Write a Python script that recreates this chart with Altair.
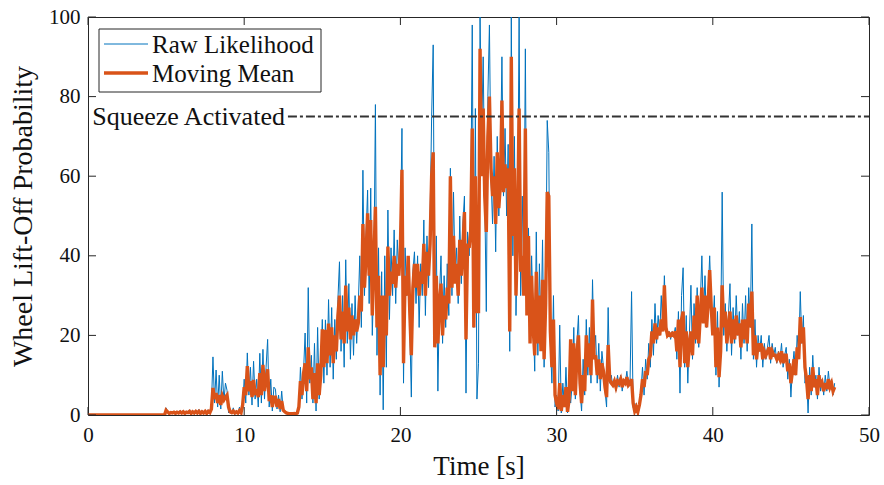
import altair as alt
import pandas as pd
import numpy as np

raw_likelihood = [
    0, 0, 0, 0, 0, 0, 0, 0, 0, 0,
    0, 0, 0, 0, 0, 0, 0, 0, 0, 0,
    0, 0, 0, 0, 0, 0, 0, 0, 0, 0,
    0, 0, 0, 0, 0, 0, 0, 0, 0, 0,
    0, 0, 0, 0, 0, 0, 0, 0, 0, 0,
    1.8, 0.6, 0.2, 0.8, 0.3, 1.0, 0.2, 0.9, 0.4, 1.1,
    0.3, 1.2, 0.2, 0.9, 0.5, 1.3, 0.1, 1.0, 0.4, 1.2,
    0.3, 1.4, 0.2, 1.1, 0.4, 1.2, 0.1, 1.3, 0.5, 2.2,
    14.6, 3.0, 11.3, 2.0, 10.0, 1.5, 11.0, 3.5, 8.0, 6.2,
    0.5, 1.5, 0.3, 1.8, 0.2, 1.2, 0.4, 2.0, 0.3, 3.0,
    9.0, 3.0, 15.6, 5.0, 12.0, 2.5, 13.5, 4.0, 9.0, 2.0,
    15.5, 3.0, 16.5, 4.0, 12.0, 19.0, 2.0, 9.0, 1.0, 7.0,
    6.5, 1.5, 5.0, 0.8, 6.0, 1.0, 0.8, 0.3, 0.5, 0.2,
    0.3, 0.2, 0.5, 0.3, 0.6, 1.5, 12.0, 4.0, 11.0, 20.6,
    3.0, 32.0, 8.0, 15.0, 3.0, 18.0, 1.0, 22.0, 4.0, 13.0,
    24.0, 8.0, 23.9, 10.0, 29.0, 12.0, 27.0, 9.0, 24.0, 14.0,
    29.0, 38.5, 16.0, 30.0, 12.0, 39.0, 18.0, 33.0, 14.0, 28.0,
    15.0, 30.0, 18.0, 27.0, 40.0, 22.0, 61.5, 30.0, 45.0, 56.5,
    28.0, 57.0, 20.0, 35.0, 78.0, 15.0, 42.0, 5.0, 36.0, 1.3,
    40.0, 12.0, 51.5, 24.0, 42.0, 30.0, 46.5, 28.0, 44.0, 36.0,
    45.0, 72.0, 8.0, 42.0, 30.0, 38.0, 22.0, 4.5, 36.0, 41.0,
    28.0, 40.0, 22.0, 38.0, 30.0, 49.0, 25.0, 45.0, 32.0, 49.0,
    75.0, 93.0, 20.0, 45.0, 6.0, 30.0, 40.0, 18.0, 35.0, 22.0,
    38.0, 25.0, 62.0, 30.0, 56.0, 35.0, 42.0, 28.0, 50.0, 33.0,
    48.0, 55.0, 5.5, 46.0, 40.0, 50.0, 98.0, 22.0, 77.0, 4.0,
    13.0, 100.0, 70.0, 90.0, 55.0, 26.0, 80.0, 98.0, 60.0, 48.0,
    65.0, 41.0, 70.0, 50.0, 62.0, 90.0, 55.0, 72.0, 50.0, 68.0,
    16.0, 100.0, 40.0, 70.0, 25.0, 45.0, 100.0, 30.0, 55.0, 35.0,
    92.0, 30.0, 47.0, 20.0, 40.0, 25.0, 11.0, 46.0, 15.0, 38.0,
    20.0, 44.0, 12.0, 30.0, 74.0, 66.0, 18.0, 8.0, 30.0, 2.0,
    5.0, 1.0, 22.6, 0.5, 8.0, 2.0, 12.0, 0.5, 6.0, 3.0,
    8.0, 22.0, 4.0, 18.0, 25.0, 6.0, 1.0, 14.0, 5.0, 24.0,
    10.0, 22.0, 8.0, 34.0, 15.0, 20.0, 8.0, 18.0, 6.0, 16.0,
    12.0, 6.0, 2.0, 27.0, 8.0, 10.0, 7.0, 9.0, 6.0, 10.0,
    7.0, 10.0, 6.0, 9.0, 8.0, 11.0, 7.0, 8.0, 31.0, 2.0,
    0.5, 3.0, 0.0, 2.0, 6.0, 12.0, 5.0, 14.0, 9.0, 18.0,
    12.0, 24.0, 15.0, 28.0, 18.0, 25.0, 20.0, 30.0, 22.0, 35.0,
    22.0, 20.0, 21.0, 19.0, 21.0, 20.0, 22.0, 14.0, 26.0, 5.5,
    30.0, 37.0, 12.0, 25.0, 8.0, 20.0, 32.6, 14.0, 28.0, 18.0,
    32.0, 17.0, 28.0, 40.0, 24.0, 35.0, 22.0, 30.0, 40.0, 28.0,
    22.0, 30.0, 10.0, 26.0, 7.0, 18.0, 56.0, 20.0, 28.0, 16.0,
    25.0, 33.0, 15.0, 27.0, 18.0, 30.0, 20.0, 26.0, 14.0, 28.0,
    18.0, 30.0, 16.0, 32.0, 22.0, 48.0, 14.0, 24.0, 12.0, 20.0,
    16.0, 20.0, 12.0, 18.0, 14.0, 17.0, 20.0, 13.0, 18.0, 15.0,
    17.0, 13.0, 16.0, 14.0, 18.0, 12.0, 15.0, 17.0, 9.0, 14.0,
    4.5, 12.0, 16.0, 10.0, 20.0, 15.0, 31.0, 18.0, 25.0, 8.0,
    10.0, 0.5, 12.0, 5.0, 15.0, 7.0, 10.0, 4.0, 12.0, 6.0,
    9.0, 5.0, 10.0, 6.0, 11.0, 7.0, 9.0, 5.0, 8.0,
]

moving_mean = [
    0, 0, 0, 0, 0, 0, 0, 0, 0, 0,
    0, 0, 0, 0, 0, 0, 0, 0, 0, 0,
    0, 0, 0, 0, 0, 0, 0, 0, 0, 0,
    0, 0, 0, 0, 0, 0, 0, 0, 0, 0,
    0, 0, 0, 0, 0, 0, 0, 0, 0, 0,
    1.2, 0.8, 0.4, 0.6, 0.5, 0.7, 0.4, 0.7, 0.5, 0.8,
    0.5, 0.8, 0.4, 0.7, 0.6, 0.9, 0.4, 0.8, 0.5, 0.9,
    0.5, 0.9, 0.4, 0.8, 0.5, 0.9, 0.4, 0.9, 0.6, 1.5,
    6.8, 4.0, 5.5, 3.0, 5.0, 2.5, 4.8, 3.8, 4.5, 5.0,
    2.0, 0.8, 0.6, 1.0, 0.5, 0.8, 0.5, 1.1, 0.6, 2.5,
    7.0, 5.0, 12.3, 6.0, 8.5, 4.5, 8.8, 5.0, 6.5, 4.5,
    10.5, 5.0, 12.6, 6.0, 9.0, 11.5, 3.5, 5.0, 2.0, 4.5,
    4.5, 2.0, 4.0, 1.5, 3.5, 1.2, 0.8, 0.5, 0.4, 0.3,
    0.3, 0.3, 0.4, 0.3, 0.5, 2.0, 8.5, 5.0, 10.5, 13.0,
    6.0, 17.0, 9.0, 12.0, 4.0, 10.5, 3.0, 13.0, 5.0, 10.0,
    21.5, 12.0, 21.4, 13.0, 23.0, 15.0, 22.0, 13.0, 20.0, 16.0,
    25.0, 30.0, 19.0, 26.0, 18.0, 32.5, 21.0, 27.0, 19.0, 25.0,
    20.0, 24.0, 21.0, 23.0, 30.0, 26.0, 48.0, 32.0, 40.0, 50.7,
    35.0, 49.0, 25.0, 38.0, 52.3, 22.0, 35.0, 10.0, 30.0, 12.0,
    30.0, 20.0, 42.3, 30.0, 36.0, 33.0, 40.0, 32.0, 38.0, 35.0,
    42.0, 61.6, 13.0, 35.0, 30.0, 40.0, 26.0, 15.0, 32.0, 38.0,
    32.0, 38.0, 30.0, 36.0, 33.0, 43.0, 30.0, 41.0, 35.0, 43.0,
    60.0, 66.0, 17.0, 35.0, 18.0, 28.0, 33.0, 20.0, 30.0, 24.0,
    32.0, 28.0, 60.0, 32.0, 45.0, 33.0, 38.0, 30.0, 44.0, 35.0,
    42.0, 51.0, 19.0, 43.0, 42.0, 46.0, 72.0, 22.0, 60.0, 26.0,
    26.0, 92.0, 60.0, 77.0, 55.0, 46.0, 70.0, 80.0, 62.0, 55.0,
    60.0, 48.0, 66.0, 52.0, 58.0, 79.0, 56.0, 63.0, 57.0, 62.0,
    21.0, 90.0, 45.0, 62.0, 30.0, 46.0, 77.0, 36.0, 40.0, 30.0,
    72.0, 25.0, 45.0, 18.0, 35.0, 22.0, 15.0, 36.0, 18.0, 30.0,
    16.0, 34.0, 14.0, 28.0, 56.0, 55.0, 21.0, 12.0, 24.0, 5.0,
    3.0, 1.5, 8.0, 1.0, 5.0, 2.0, 7.0, 0.8, 4.0, 19.0,
    6.0, 18.0, 5.0, 15.0, 20.0, 8.0, 3.0, 10.0, 6.0, 20.0,
    12.0, 18.0, 10.0, 29.0, 14.0, 15.0, 10.0, 14.0, 9.0, 13.0,
    11.0, 7.0, 4.5, 17.6, 9.0, 8.0, 7.5, 8.5, 7.0, 8.5,
    8.0, 9.0, 7.0, 8.5, 8.0, 9.5, 7.5, 8.0, 9.0, 3.0,
    1.0, 2.0, 0.8, 2.5, 5.0, 9.0, 7.0, 11.0, 10.0, 14.0,
    15.0, 21.0, 18.0, 23.0, 19.0, 22.0, 20.0, 24.0, 21.0, 32.6,
    22.0, 20.0, 20.5, 20.0, 20.5, 20.0, 21.0, 16.0, 24.0, 12.0,
    24.0, 26.0, 13.0, 21.0, 12.0, 18.0, 21.0, 15.0, 25.0, 19.0,
    30.0, 18.0, 25.0, 32.0, 23.0, 30.0, 22.0, 28.0, 36.4, 27.0,
    20.0, 27.0, 12.0, 22.0, 9.5, 16.0, 32.6, 22.0, 26.0, 18.0,
    22.0, 26.0, 18.0, 24.0, 19.0, 25.0, 20.0, 23.0, 17.0, 24.0,
    19.0, 24.0, 18.0, 28.0, 22.0, 31.0, 15.0, 20.0, 14.0, 18.0,
    16.0, 18.0, 14.0, 16.0, 15.0, 16.0, 17.0, 14.0, 16.0, 15.0,
    15.0, 14.0, 15.0, 14.0, 16.0, 13.0, 15.0, 15.0, 11.0, 13.0,
    8.0, 11.0, 14.0, 10.0, 17.0, 14.0, 24.6, 18.0, 22.0, 12.0,
    9.0, 4.0, 10.0, 6.0, 12.0, 7.0, 9.0, 5.0, 10.0, 7.0,
    8.0, 6.0, 8.0, 6.5, 9.0, 7.0, 8.0, 6.0, 7.0,
]

sample_step = 0.1
series_names = ["Raw Likelihood", "Moving Mean"]
series_colors = ["#0072BD", "#D95319"]
series_widths = [1.0, 3.4]

x_ticks = [0, 10, 20, 30, 40, 50]
y_ticks = [0, 20, 40, 60, 80, 100]

threshold_value = 75
threshold_start = 12.8
threshold_end = 50
threshold_label = "Squeeze Activated"

# ---- build table ----
n = len(raw_likelihood)
times = np.round(np.arange(n) * sample_step, 2)
df = pd.concat([
    pd.DataFrame({"t": times, "v": raw_likelihood, "series": series_names[0], "ord": 0}),
    pd.DataFrame({"t": times[:len(moving_mean)], "v": moving_mean, "series": series_names[1], "ord": 1}),
])

W, H = 781, 398
FONT = "Liberation Serif"
AX = "#262626"
TXT = "#111111"

xscale = alt.Scale(domain=[0, 50], nice=False, zero=False)
yscale = alt.Scale(domain=[0, 100], nice=False)

xax = alt.Axis(values=x_ticks, ticks=False, domain=False, grid=False, labelPadding=9,
               title="Time [s]", titlePadding=8, titleFontSize=27, labelFlush=False)
yax = alt.Axis(values=y_ticks, ticks=False, domain=False, grid=False, labelPadding=8,
               title="Wheel Lift-Off Probability", titlePadding=11, titleFontSize=28)

color = alt.Color("series:N", scale=alt.Scale(domain=series_names, range=series_colors), legend=None)
swidth = alt.StrokeWidth("series:N", scale=alt.Scale(domain=series_names, range=series_widths), legend=None)

base = alt.Chart(df)
raw_line = base.transform_filter(alt.datum.ord == 0).mark_line(clip=True).encode(
    x=alt.X("t:Q", scale=xscale, axis=xax),
    y=alt.Y("v:Q", scale=yscale, axis=yax),
    color=color, strokeWidth=swidth,
)
mean_line = base.transform_filter(alt.datum.ord == 1).mark_line(clip=True).encode(
    x=alt.X("t:Q", scale=xscale, axis=xax),
    y=alt.Y("v:Q", scale=yscale, axis=yax),
    color=color, strokeWidth=swidth,
)

thr_df = pd.DataFrame({"x": [threshold_start], "x2": [threshold_end], "y": [threshold_value],
                       "label": [threshold_label]})
thr_rule = alt.Chart(thr_df).mark_rule(color="#333333", strokeWidth=2.2, strokeDash=[9, 3, 3, 3]).encode(
    x=alt.X("x:Q", scale=xscale), x2="x2:Q", y=alt.Y("y:Q", scale=yscale))
thr_text = alt.Chart(thr_df).mark_text(align="right", baseline="middle", dx=-3, font=FONT,
                                       fontSize=26, color=TXT).encode(
    x=alt.X("x:Q", scale=xscale), y=alt.Y("y:Q", scale=yscale), text="label:N")

# ---- manual legend (box, line samples, labels) ----
leg_df = pd.DataFrame({"series": series_names})
leg_box = alt.Chart(leg_df.head(1)).mark_rect(fill="white", stroke=AX, strokeWidth=1).encode(
    x=alt.value(11), x2=alt.value(233), y=alt.value(12), y2=alt.value(75))
leg_items = []
for i, (name, col, wdt) in enumerate(zip(series_names, series_colors, series_widths)):
    ypos = 27 + 29 * i
    one = pd.DataFrame({"series": [name]})
    leg_items.append(alt.Chart(one).mark_rule(color=col, strokeWidth=wdt).encode(
        x=alt.value(16), x2=alt.value(60), y=alt.value(ypos)))
    leg_items.append(alt.Chart(one).mark_text(align="left", baseline="middle", font=FONT,
                                              fontSize=25, color=TXT).encode(
        x=alt.value(64), y=alt.value(ypos + 1), text="series:N"))

# ---- inward ticks on all four sides ----
xt = pd.DataFrame({"p": x_ticks})
yt = pd.DataFrame({"p": y_ticks})
tl = 8
xb = alt.Chart(xt).mark_rule(color=AX, strokeWidth=1).encode(
    x=alt.X("p:Q", scale=xscale), y=alt.value(H), y2=alt.value(H - tl))
xtop = alt.Chart(xt).mark_rule(color=AX, strokeWidth=1).encode(
    x=alt.X("p:Q", scale=xscale), y=alt.value(0), y2=alt.value(tl))
yl = alt.Chart(yt).mark_rule(color=AX, strokeWidth=1).encode(
    y=alt.Y("p:Q", scale=yscale), x=alt.value(0), x2=alt.value(tl))
yr = alt.Chart(yt).mark_rule(color=AX, strokeWidth=1).encode(
    y=alt.Y("p:Q", scale=yscale), x=alt.value(W), x2=alt.value(W - tl))

chart = alt.layer(raw_line, mean_line, thr_rule, thr_text, xb, xtop, yl, yr,
                  leg_box, *leg_items).properties(
    width=W, height=H,
    autosize=alt.AutoSizeParams(type="none"),
    padding={"left": 88, "top": 17, "right": 15, "bottom": 70},
    background="white",
).configure_view(stroke=AX, strokeWidth=1).configure_axis(
    labelFont=FONT, labelFontSize=21, labelColor=TXT,
    titleFont=FONT, titleFontWeight="normal", titleColor=TXT,
)

chart.save("out.html", embed_options={"renderer": "svg", "actions": False})
